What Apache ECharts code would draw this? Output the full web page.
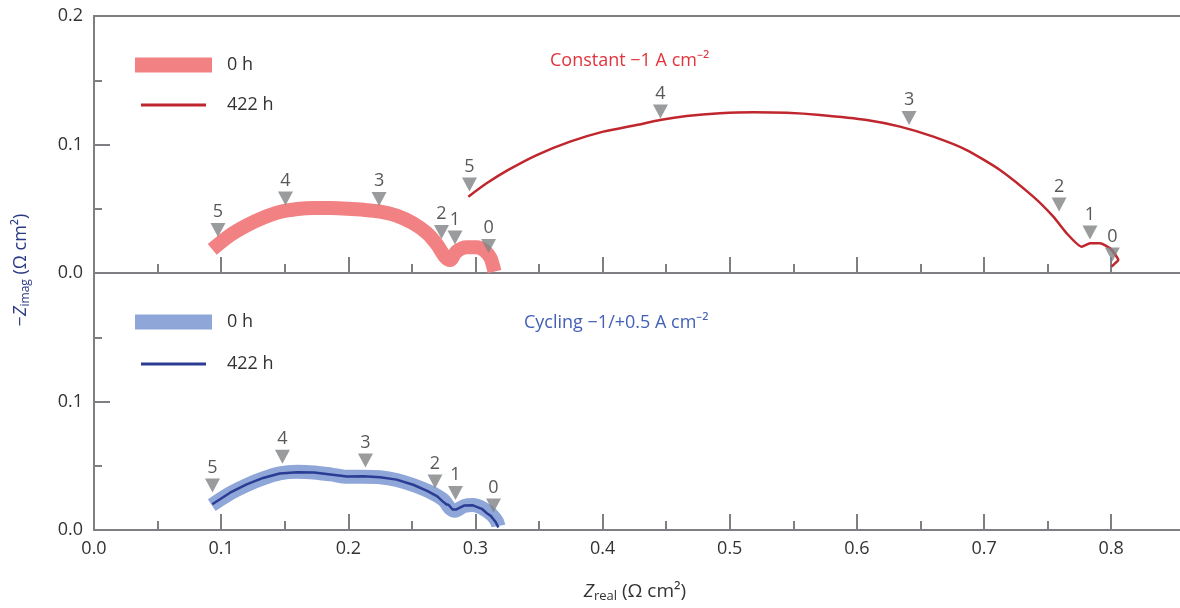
<!DOCTYPE html>
<html>
<head>
<meta charset="utf-8">
<script src="https://cdn.jsdelivr.net/npm/echarts@6/dist/echarts.min.js"></script>
<style>
  html, body { margin: 0; padding: 0; background: #fff; }
  #main { width: 1180px; height: 608px; }
</style>
</head>
<body>
<div id="main"></div>
<script>
// Constant -1 A cm-2, 0 h
var const0_x = [0.093, 0.107, 0.120, 0.133, 0.146, 0.160, 0.173, 0.186, 0.199, 0.212, 0.225, 0.238, 0.251, 0.262, 0.270, 0.276, 0.280, 0.285, 0.293, 0.301, 0.308, 0.312, 0.314, 0.315];
var const0_y = [0.0184, 0.0294, 0.0370, 0.0430, 0.0474, 0.0498, 0.0506, 0.0505, 0.0500, 0.0492, 0.0478, 0.0447, 0.0387, 0.0309, 0.0218, 0.0127, 0.0101, 0.0166, 0.0200, 0.0200, 0.0166, 0.0114, 0.0049, 0.0010];
// Constant -1 A cm-2, 422 h
var const422_x = [0.2944, 0.3088, 0.3258, 0.3482, 0.3744, 0.4005, 0.4268, 0.4451, 0.4661, 0.4923, 0.5185, 0.5448, 0.5709, 0.6077, 0.6339, 0.6601, 0.6863, 0.7125, 0.7387, 0.7545, 0.7650, 0.7768, 0.7834, 0.7912, 0.7991, 0.8043, 0.8056, 0.8030, 0.8004];
var const422_y = [0.0594, 0.0698, 0.0802, 0.0918, 0.1022, 0.1100, 0.1152, 0.1191, 0.1222, 0.1243, 0.1251, 0.1247, 0.1230, 0.1191, 0.1139, 0.1061, 0.0957, 0.0802, 0.0594, 0.0438, 0.0309, 0.0205, 0.0231, 0.0231, 0.0192, 0.0127, 0.0101, 0.0075, 0.0049];
// Cycling -1/+0.5 A cm-2, 0 h
var cyc0_x = [0.0926, 0.107, 0.120, 0.133, 0.146, 0.160, 0.173, 0.186, 0.199, 0.212, 0.225, 0.238, 0.251, 0.264, 0.275, 0.280, 0.284, 0.291, 0.298, 0.306, 0.313, 0.317, 0.318];
var cyc0_y = [0.0194, 0.0285, 0.0350, 0.0402, 0.0441, 0.0453, 0.0448, 0.0433, 0.0414, 0.0414, 0.0410, 0.0389, 0.0350, 0.0298, 0.0233, 0.0168, 0.0150, 0.0186, 0.0194, 0.0168, 0.0117, 0.0065, 0.0031];
// Cycling -1/+0.5 A cm-2, 422 h
var cyc422_x = [0.093, 0.107, 0.120, 0.133, 0.146, 0.160, 0.173, 0.186, 0.199, 0.212, 0.225, 0.238, 0.251, 0.262, 0.270, 0.274, 0.277, 0.279, 0.282, 0.285, 0.291, 0.298, 0.305, 0.309, 0.312, 0.314, 0.316, 0.318];
var cyc422_y = [0.0200, 0.0290, 0.0355, 0.0405, 0.0440, 0.0450, 0.0447, 0.0432, 0.0416, 0.0418, 0.0410, 0.0392, 0.0352, 0.0305, 0.0262, 0.0225, 0.0200, 0.0195, 0.0160, 0.0160, 0.0190, 0.0192, 0.0165, 0.0130, 0.0110, 0.0085, 0.0060, 0.0020];

// frequency decade markers (triangles)
var mark_labels = ['5', '4', '3', '2', '1', '0'];
var mark_const0_x = [0.0975, 0.1506, 0.2242, 0.2733, 0.2839, 0.3103];
var mark_const0_y = [0.0335, 0.0580, 0.0576, 0.0319, 0.0276, 0.0210];
var mark_const422_x = [0.2953, 0.4455, 0.6410, 0.7590, 0.7833, 0.8009];
var mark_const422_y = [0.0689, 0.1257, 0.1206, 0.0533, 0.0315, 0.0144];
var mark_cyc_x = [0.0932, 0.1482, 0.2135, 0.2682, 0.2843, 0.3142];
var mark_cyc_y = [0.0346, 0.0571, 0.0540, 0.0377, 0.0287, 0.0190];

var x_major = [0, 0.1, 0.2, 0.3, 0.4, 0.5, 0.6, 0.7, 0.8];
var x_minor = [0.05, 0.15, 0.25, 0.35, 0.45, 0.55, 0.65, 0.75];

function pairs(xs, ys) {
    return xs.map(function (x, i) { return [x, ys[i]]; });
}
function marks(xs, ys) {
    return xs.map(function (x, i) { return [x, ys[i], mark_labels[i]]; });
}

var FONT = 'Open Sans';
var AXIS_COLOR = '#7d7f82';
var TEXT_COLOR = '#333336';

var chart = echarts.init(document.getElementById('main'));

function xAxisFor(grid, ticks, len, showLine, showLabel, pos) {
    return {
        type: 'value', gridIndex: grid, position: pos || 'bottom',
        min: 0, max: 0.8541,
        axisLine: { show: showLine, onZero: false, lineStyle: { color: AXIS_COLOR, width: 2 } },
        axisTick: { show: ticks != null, inside: true, length: len, customValues: ticks || [], lineStyle: { color: AXIS_COLOR, width: 2 } },
        axisLabel: {
            show: showLabel, customValues: x_major, margin: 10,
            fontFamily: FONT, fontSize: 18, color: TEXT_COLOR,
            formatter: function (v) { return v.toFixed(1); }
        },
        splitLine: { show: false }
    };
}

function yAxisFor(grid, hideTop) {
    return {
        type: 'value', gridIndex: grid,
        min: 0, max: 0.2, interval: 0.1,
        axisLine: { show: true, onZero: false, lineStyle: { color: AXIS_COLOR, width: 2 } },
        axisTick: { inside: true, length: 16, lineStyle: { color: AXIS_COLOR, width: 2 } },
        minorTick: { show: true, splitNumber: 2, length: 8, lineStyle: { color: AXIS_COLOR, width: 2 } },
        axisLabel: {
            margin: 11, fontFamily: FONT, fontSize: 18, color: TEXT_COLOR,
            formatter: function (v) { return (hideTop && v > 0.15) ? '' : v.toFixed(1); }
        },
        splitLine: { show: false }
    };
}

function markSeries(name, xi, yi, data) {
    return {
        name: name, type: 'scatter', xAxisIndex: xi, yAxisIndex: yi,
        data: data, symbol: 'triangle', symbolRotate: 180, symbolSize: [15, 14],
        itemStyle: { color: '#808285' }, z: 5, silent: true,
        label: {
            show: true, position: 'top', distance: 2,
            fontFamily: FONT, fontSize: 18, color: '#2e2e30',
            formatter: function (p) { return p.value[2]; }
        }
    };
}

function legendFor(name, left, top, w, h, pad) {
    return {
        data: [name], left: left, top: top, icon: 'rect',
        itemWidth: w, itemHeight: h, selectedMode: false,
        textStyle: { fontFamily: FONT, fontSize: 18, color: TEXT_COLOR, padding: [0, 0, 0, pad] },
        formatter: function (n) { return n.split('|')[1]; }
    };
}

var option = {
    animation: false,
    grid: [
        { left: 94, top: 16, width: 1086, height: 257 },
        { left: 94, top: 273, width: 1086, height: 257 }
    ],
    xAxis: [
        xAxisFor(0, x_major, 16, true, false),
        xAxisFor(0, x_minor, 9, false, false),
        xAxisFor(0, null, 0, true, false, 'top'),
        xAxisFor(1, x_major, 16, true, true),
        xAxisFor(1, x_minor, 9, false, false)
    ],
    yAxis: [yAxisFor(0, false), yAxisFor(1, true)],
    legend: [
        legendFor('c0|0 h', 130, 51, 77, 15, 10),
        legendFor('c422|422 h', 136, 91, 65, 3, 16),
        legendFor('y0|0 h', 130, 308, 77, 15, 10),
        legendFor('y422|422 h', 136, 350, 65, 3, 16)
    ],
    series: [
        {
            name: 'c0|0 h', type: 'line', xAxisIndex: 0, yAxisIndex: 0,
            data: pairs(const0_x, const0_y), showSymbol: false, smooth: 0.3,
            itemStyle: { color: '#f28183' },
            lineStyle: { color: '#f28183', width: 14, join: 'round' }
        },
        {
            name: 'c422|422 h', type: 'line', xAxisIndex: 0, yAxisIndex: 0,
            data: pairs(const422_x, const422_y), showSymbol: false, smooth: 0.2,
            itemStyle: { color: '#c0262d' },
            lineStyle: { color: '#c0262d', width: 2.5 }
        },
        {
            name: 'y0|0 h', type: 'line', xAxisIndex: 3, yAxisIndex: 1,
            data: pairs(cyc0_x, cyc0_y), showSymbol: false, smooth: 0.3,
            itemStyle: { color: '#8fa6d9' },
            lineStyle: { color: '#8fa6d9', width: 14, join: 'round' }
        },
        {
            name: 'y422|422 h', type: 'line', xAxisIndex: 3, yAxisIndex: 1,
            data: pairs(cyc422_x, cyc422_y), showSymbol: false,
            itemStyle: { color: '#2a3c94' },
            lineStyle: { color: '#2a3c94', width: 2.5 }
        },
        markSeries('m1', 0, 0, marks(mark_const0_x, mark_const0_y)),
        markSeries('m2', 0, 0, marks(mark_const422_x, mark_const422_y)),
        markSeries('m3', 3, 1, marks(mark_cyc_x, mark_cyc_y))
    ],
    graphic: [
        {
            type: 'text', left: 550, top: 52,
            style: { text: 'Constant \u22121 A cm\u207B\u00B2', fontFamily: FONT, fontSize: 18, fill: '#e2343c' }
        },
        {
            type: 'text', left: 524, top: 314,
            style: { text: 'Cycling \u22121/+0.5 A cm\u207B\u00B2', fontFamily: FONT, fontSize: 18, fill: '#4261b6' }
        },
        {
            type: 'text', x: 21, y: 270, rotation: Math.PI / 2,
            style: {
                text: '{n|\u2212}{z|Z}{s|imag}{n| (\u03A9 cm\u00B2)}',
                align: 'center', verticalAlign: 'middle', fill: '#2b3a85',
                rich: {
                    n: { fontFamily: FONT, fontSize: 18, lineHeight: 22, fill: '#2b3a85' },
                    z: { fontFamily: FONT, fontSize: 18, fontStyle: 'italic', lineHeight: 22, fill: '#2b3a85' },
                    s: { fontFamily: FONT, fontSize: 12, lineHeight: 12, verticalAlign: 'bottom', fill: '#2b3a85' }
                }
            }
        },
        {
            type: 'text', x: 635, y: 592,
            style: {
                text: '{z|Z}{s|real}{n| (\u03A9 cm\u00B2)}',
                align: 'center', verticalAlign: 'middle', fill: TEXT_COLOR,
                rich: {
                    n: { fontFamily: FONT, fontSize: 19, lineHeight: 22, fill: TEXT_COLOR },
                    z: { fontFamily: FONT, fontSize: 19, fontStyle: 'italic', lineHeight: 22, fill: TEXT_COLOR },
                    s: { fontFamily: FONT, fontSize: 13, lineHeight: 13, verticalAlign: 'bottom', fill: TEXT_COLOR }
                }
            }
        }
    ]
};

chart.setOption(option);
</script>
</body>
</html>
